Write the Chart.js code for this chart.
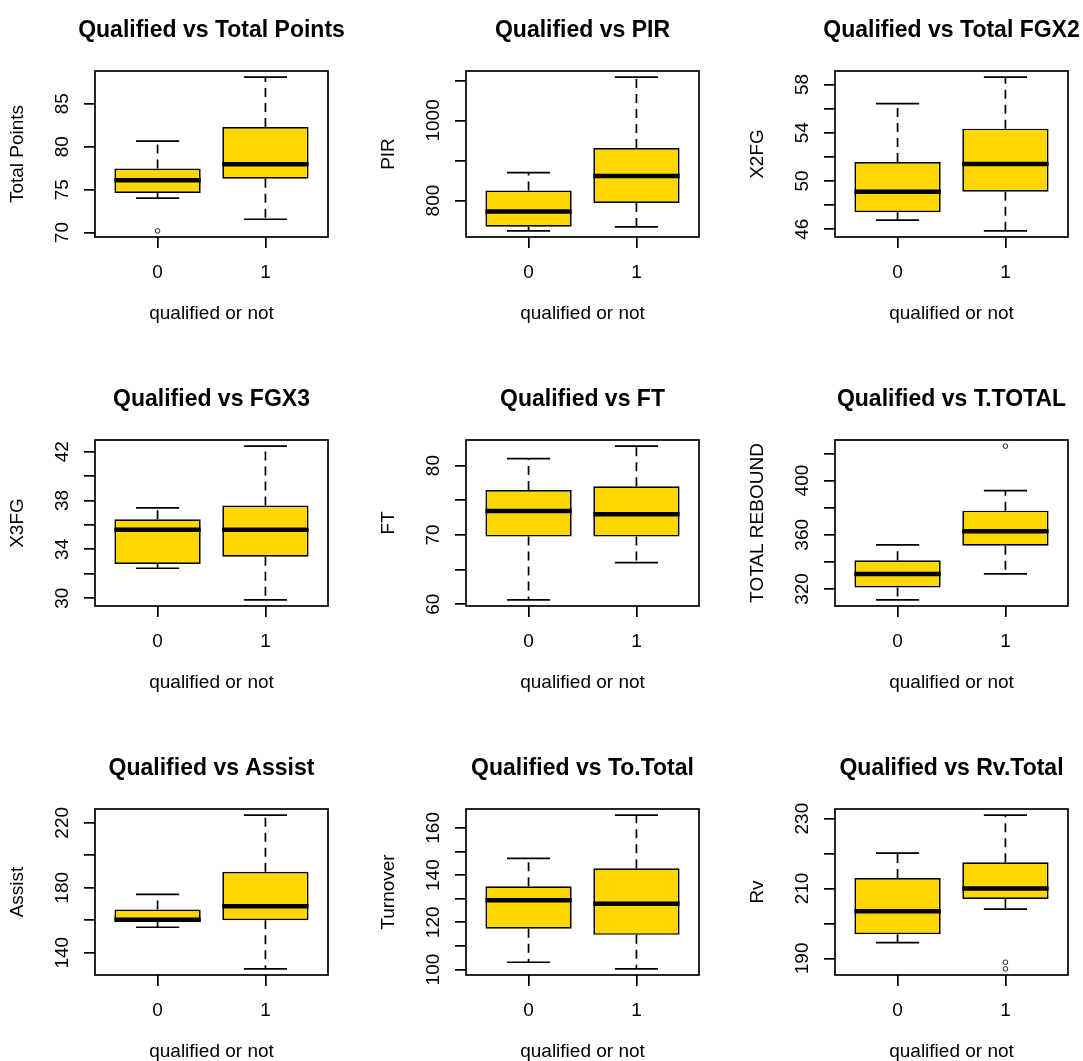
<!DOCTYPE html>
<html>
<head>
<meta charset="utf-8">
<script src="https://cdn.jsdelivr.net/npm/chart.js@4/dist/chart.umd.min.js"></script>
<style>
  html, body { margin: 0; padding: 0; background: #fff; overflow: hidden; width: 1083px; height: 1061px; }
  #wrap { position: relative; width: 1083px; height: 1061px; overflow: hidden; }
  .panel { position: absolute; width: 370px; height: 369px; }
</style>
</head>
<body>
<div id="wrap"></div>
<script>
// ---------- data ----------
const groups = ['0', '1'];
const xTitle = 'qualified or not';
const panelTitles = [
  'Qualified vs Total Points', 'Qualified vs PIR', 'Qualified vs Total FGX2',
  'Qualified vs FGX3', 'Qualified vs FT', 'Qualified vs T.TOTAL',
  'Qualified vs Assist', 'Qualified vs To.Total', 'Qualified vs Rv.Total'
];
const yTitles = ['Total Points', 'PIR', 'X2FG', 'X3FG', 'FT', 'TOTAL REBOUND', 'Assist', 'Turnover', 'Rv'];

// per panel: [group 0, group 1]
const whiskerLow  = [[74.0, 71.55], [724.4, 734.5], [46.75, 45.86], [32.45, 29.86], [60.63, 66.0], [312.0, 331.1], [155.7, 130.1], [103.1, 100.3], [194.5, 204.1]];
const hingeLow    = [[74.6, 76.26], [734.5, 794.2], [47.4, 49.1],   [32.8, 33.4],   [69.75, 69.75], [321.2, 352.0], [159.0, 160.0], [117.3, 114.7], [196.9, 207.0]];
const medians     = [[76.1, 77.95], [773.0, 861.2], [49.1, 51.4],   [35.6, 35.6],   [73.44, 72.96], [331.1, 362.7], [160.3, 168.7], [129.4, 127.9], [203.5, 210.0]];
const hingeHigh   = [[77.47, 82.3], [825.2, 931.0], [51.56, 54.33], [36.47, 37.6],  [76.46, 77.0],  [341.2, 377.8], [166.6, 189.9], [135.3, 142.9], [213.0, 217.5]];
const whiskerHigh = [[80.66, 88.1], [869.8, 1108.0],[56.4, 58.6],   [37.4, 42.46],  [81.0, 82.8],   [352.6, 392.6], [175.9, 224.7], [147.1, 165.4], [220.1, 231.0]];
const outliers    = [[[70.2], []], [[], []], [[], []], [[], []], [[], []], [[], [425.4]], [[], []], [[], []], [[], [188.9, 187.0]]];

const yTicks = [
  [70, 75, 80, 85], [800, 900, 1000, 1100], [46, 48, 50, 52, 54, 56, 58],
  [30, 32, 34, 36, 38, 40, 42], [60, 65, 70, 75, 80], [320, 340, 360, 380, 400, 420],
  [140, 160, 180, 200, 220], [100, 110, 120, 130, 140, 150, 160], [190, 200, 210, 220, 230]
];
const yTickLabels = [
  ['70', '75', '80', '85'], ['800', '', '1000', ''], ['46', '', '50', '', '54', '', '58'],
  ['30', '', '34', '', '38', '', '42'], ['60', '', '70', '', '80'], ['320', '', '360', '', '400', ''],
  ['140', '', '180', '', '220'], ['100', '', '120', '', '140', '', '160'], ['190', '', '210', '', '230']
];

// ---------- layout / style ----------
const FONT = "'Liberation Sans', Arial, Helvetica, sans-serif";
const LAB_SIZE = 19, TITLE_SIZE = 23;
const GOLD = '#FFD700', INK = '#000';
const LW = 1.7;
const colLeft = [0, 371, 740], rowTop = [0, 369, 738];

Chart.defaults.font.family = FONT;
Chart.defaults.color = INK;

const measureCtx = document.createElement('canvas').getContext('2d');
measureCtx.font = LAB_SIZE + 'px ' + FONT;

const framePlugin = {
  id: 'frame',
  afterLayout(chart) {
    // keep the title centred on the plot region but give it room to its full width
    const t = chart.titleBlock;
    if (t) { t.left = chart.chartArea.left - 80; t.right = chart.chartArea.right + 80; }
  },
  afterDatasetsDraw(chart) {
    const { ctx, chartArea: a } = chart;
    ctx.save();
    ctx.strokeStyle = INK;
    ctx.lineWidth = LW;
    ctx.strokeRect(a.left, a.top, a.right - a.left, a.bottom - a.top);
    ctx.restore();
  }
};

function unitPx(chart, u) {
  const s = chart.scales.x;
  return Math.abs(s.getPixelForValue(1 + u) - s.getPixelForValue(1));
}

function makePanel(i) {
  const div = document.createElement('div');
  div.className = 'panel';
  div.style.left = colLeft[i % 3] + 'px';
  div.style.top = rowTop[Math.floor(i / 3)] + 'px';
  const cv = document.createElement('canvas');
  cv.width = 370; cv.height = 369;
  div.appendChild(cv);
  document.getElementById('wrap').appendChild(div);

  const xs = groups.map((g, k) => k + 1);
  const allVals = [...whiskerLow[i], ...whiskerHigh[i], ...outliers[i].flat()];
  const lo = Math.min(...allVals), hi = Math.max(...allVals), ext = 0.04 * (hi - lo);
  const xExt = 0.04 * (xs.length);

  const boxData = xs.map((x, k) => ({ x, y: [hingeLow[i][k], hingeHigh[i][k]] }));
  const whiskerData = [];
  xs.forEach((x, k) => {
    whiskerData.push({ x, y: hingeHigh[i][k] }, { x, y: whiskerHigh[i][k] }, { x, y: null },
                     { x, y: hingeLow[i][k] }, { x, y: whiskerLow[i][k] }, { x, y: null });
  });
  const capData = xs.flatMap((x, k) => [{ x, y: whiskerLow[i][k] }, { x, y: whiskerHigh[i][k] }]);
  const medData = xs.map((x, k) => ({ x, y: medians[i][k] }));
  const outData = xs.flatMap((x, k) => outliers[i][k].map(y => ({ x, y })));

  const widest = Math.max(...yTickLabels[i].map(t => measureCtx.measureText(t).width));
  const yPad = 21 - widest / 2;

  new Chart(cv, {
    type: 'bar',
    data: {
      datasets: [
        { type: 'bar', data: boxData, backgroundColor: GOLD, borderColor: INK, borderWidth: LW,
          borderSkipped: false, barPercentage: 0.8, categoryPercentage: 1, order: 5 },
        { type: 'line', data: whiskerData, borderColor: INK, borderWidth: LW, borderDash: [9, 6],
          pointRadius: 0, spanGaps: false, fill: false, order: 4 },
        { type: 'line', data: capData, showLine: false, pointStyle: 'line', borderColor: INK,
          pointBorderColor: INK, pointBorderWidth: LW,
          pointRadius: c => unitPx(c.chart, 0.2), order: 3 },
        { type: 'line', data: medData, showLine: false, pointStyle: 'line', borderColor: INK,
          pointBorderColor: INK, pointBorderWidth: 4.5,
          pointRadius: c => unitPx(c.chart, 0.4), order: 2 },
        { type: 'line', data: outData, showLine: false, pointStyle: 'circle', borderColor: '#222',
          pointBorderColor: '#222', pointBackgroundColor: 'rgba(0,0,0,0)', pointBorderWidth: 1,
          pointRadius: 2.3, order: 1 }
      ]
    },
    options: {
      responsive: false,
      animation: false,
      devicePixelRatio: 1,
      events: [],
      layout: { padding: { left: 0, top: 0, right: 42, bottom: 0 } },
      plugins: {
        legend: { display: false },
        tooltip: { enabled: false },
        title: {
          display: true, text: panelTitles[i], fullSize: false, color: INK,
          font: { size: TITLE_SIZE, weight: 'bold', family: FONT },
          padding: { top: 16.5, bottom: 26.9 }
        }
      },
      scales: {
        x: {
          type: 'linear', offset: false,
          min: 1 - 0.5 - xExt, max: xs.length + 0.5 + xExt,
          afterBuildTicks: s => { s.ticks = xs.map(v => ({ value: v })); },
          afterFit: s => { s.height = 132; s.paddingLeft = 0; s.paddingRight = 0; },
          grid: { display: true, drawOnChartArea: false, drawTicks: true, tickLength: 11,
                  color: INK, lineWidth: LW, offset: false },
          border: { display: false },
          ticks: { autoSkip: false, maxRotation: 0, padding: 13, color: INK,
                   font: { size: LAB_SIZE }, callback: (v, idx) => groups[idx] },
          title: { display: true, text: xTitle, color: INK, font: { size: LAB_SIZE },
                   padding: { top: 0, bottom: 43.6 } }
        },
        y: {
          type: 'linear', beginAtZero: false, bounds: 'data',
          min: lo - ext, max: hi + ext,
          afterBuildTicks: s => { s.ticks = yTicks[i].map(v => ({ value: v })); },
          afterFit: s => { s.width = 95; s.paddingTop = 0; s.paddingBottom = 0; },
          grid: { display: true, drawOnChartArea: false, drawTicks: true, tickLength: 11,
                  color: INK, lineWidth: LW },
          border: { display: false },
          ticks: { autoSkip: false, minRotation: 90, maxRotation: 90, crossAlign: 'center',
                   padding: yPad, color: INK, font: { size: LAB_SIZE },
                   callback: (v, idx) => yTickLabels[i][idx] },
          title: { display: true, text: yTitles[i], color: INK, font: { size: LAB_SIZE },
                   padding: { top: 6.6, bottom: 0 } }
        }
      }
    },
    plugins: [framePlugin]
  });
}

for (let i = 0; i < 9; i++) makePanel(i);
</script>
</body>
</html>
